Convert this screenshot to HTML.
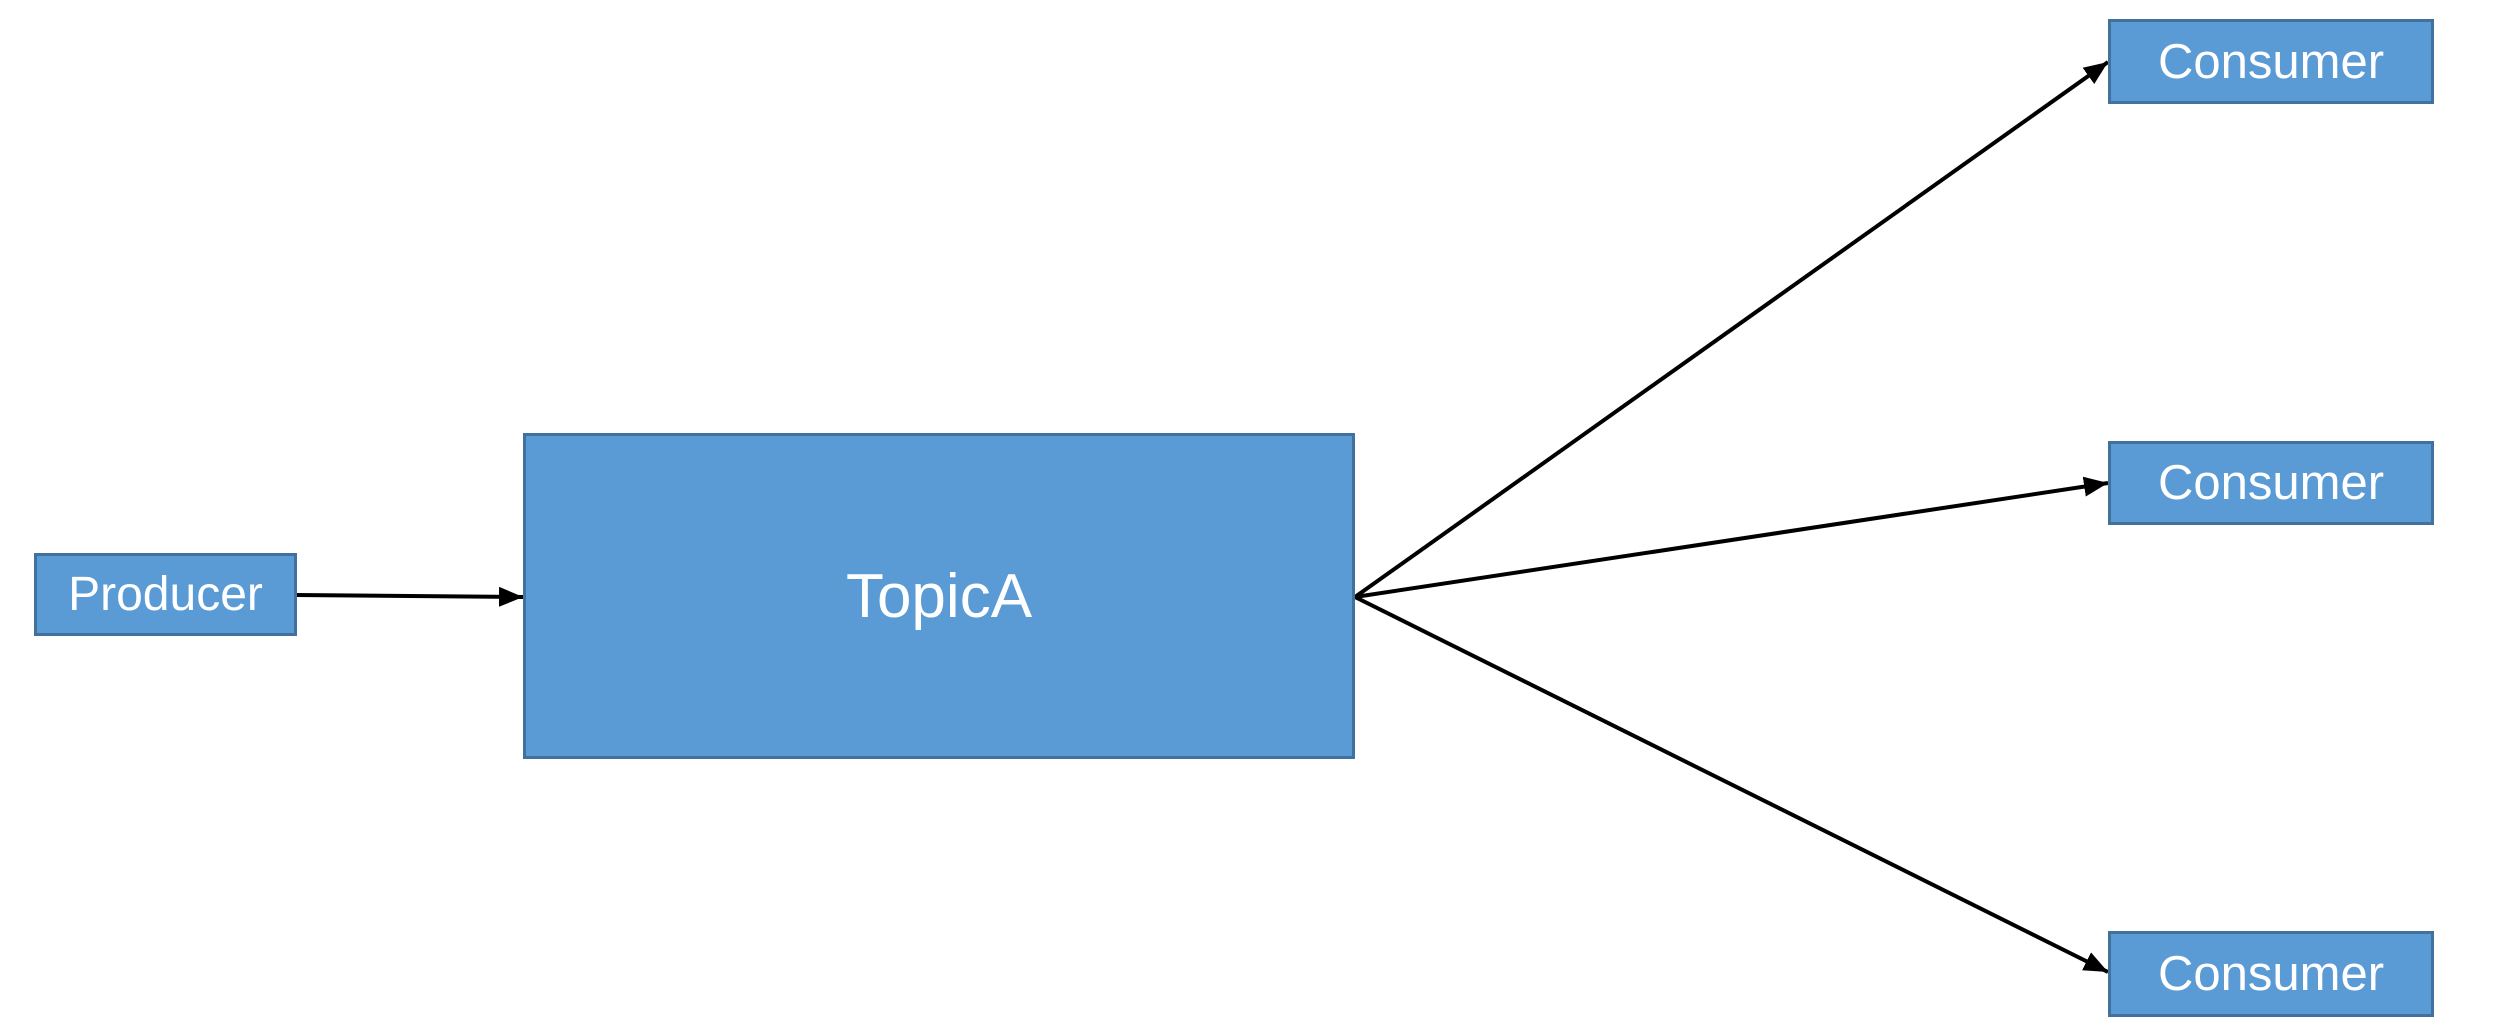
<!DOCTYPE html>
<html><head><style>
body{margin:0;width:2508px;height:1014px;background:#fff;overflow:hidden;position:relative;font-family:"Liberation Sans",Arial,sans-serif}
.b{position:absolute;background:#5b9bd5;border:3px solid #41719c;box-sizing:border-box;color:#fff;display:flex;align-items:center;justify-content:center}
</style></head><body>
<svg width="2508" height="1014" style="position:absolute;left:0;top:0">
<defs><marker id="a" markerWidth="6" markerHeight="5" refX="6" refY="2.5" orient="auto" markerUnits="strokeWidth"><path d="M0,0 L6,2.5 L0,5 z" fill="#000"/></marker></defs>
<g stroke="#000" stroke-width="4" fill="none" marker-end="url(#a)">
<line x1="296" y1="595" x2="523" y2="597"/>
<line x1="1355" y1="597" x2="2108" y2="62"/>
<line x1="1355" y1="597" x2="2108" y2="483"/>
<line x1="1355" y1="597" x2="2108" y2="972"/>
</g></svg>
<div class="b" style="left:34px;top:553px;width:263px;height:83px;font-size:48px">Producer</div>
<div class="b" style="left:523px;top:433px;width:832px;height:326px;font-size:62px">TopicA</div>
<div class="b" style="left:2108px;top:19px;width:326px;height:85px;font-size:49px">Consumer</div>
<div class="b" style="left:2108px;top:441px;width:326px;height:84px;font-size:49px">Consumer</div>
<div class="b" style="left:2108px;top:931px;width:326px;height:86px;font-size:49px">Consumer</div>
</body></html>
